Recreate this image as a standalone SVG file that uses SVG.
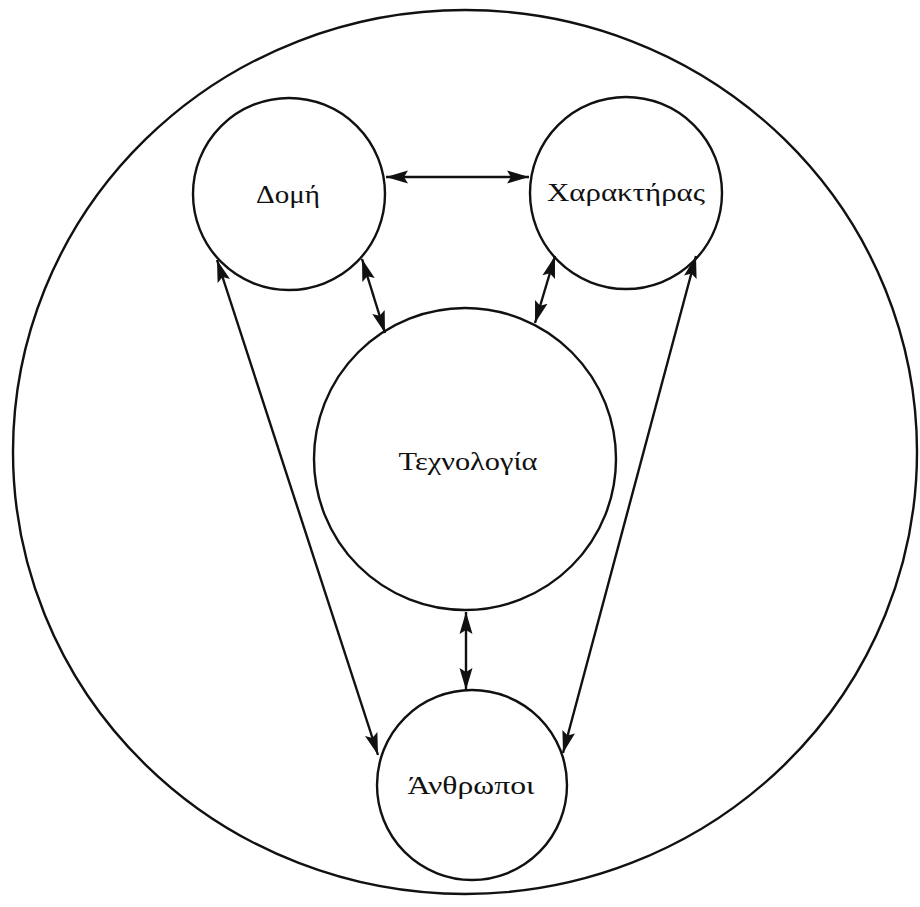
<svg xmlns="http://www.w3.org/2000/svg" width="920" height="907" viewBox="0 0 920 907">
  <defs>
    <marker id="ah" markerUnits="userSpaceOnUse" markerWidth="24" markerHeight="16" viewBox="0 0 24 16" refX="22" refY="8" orient="auto-start-reverse">
      <path d="M0,1.5 L22,8 L0,14.5 L4,8 z" fill="#111"/>
    </marker>
  </defs>
  <style>
    .node { fill: none; stroke: #111; stroke-width: 2.4; }
    .lbl { font-family: "Liberation Serif", "DejaVu Serif", serif; font-size: 25px; fill: #111; text-anchor: middle; }
    .conn line { stroke: #111; stroke-width: 2.4; marker-start: url(#ah); marker-end: url(#ah); }
  </style>
  <rect width="920" height="907" fill="#ffffff"/>
  <g id="outer">
    <ellipse class="node" cx="465" cy="452" rx="452" ry="442"/>
  </g>
  <g id="domi">
    <circle class="node" cx="289" cy="194" r="96"/>
    <text class="lbl" x="288" y="203" textLength="64" lengthAdjust="spacingAndGlyphs">Δομή</text>
  </g>
  <g id="charaktiras">
    <circle class="node" cx="626" cy="193" r="96"/>
    <text class="lbl" x="626" y="201" textLength="158" lengthAdjust="spacingAndGlyphs">Χαρακτήρας</text>
  </g>
  <g id="technologia">
    <circle class="node" cx="465" cy="459" r="151"/>
    <text class="lbl" x="468" y="470" textLength="139" lengthAdjust="spacingAndGlyphs">Τεχνολογία</text>
  </g>
  <g id="anthropoi">
    <circle class="node" cx="472" cy="785" r="95"/>
    <text class="lbl" x="471" y="794" textLength="127" lengthAdjust="spacingAndGlyphs">Άνθρωποι</text>
  </g>
  <g id="connectors" class="conn">
    <line x1="386" y1="177" x2="529" y2="177"/>
    <line x1="362" y1="259" x2="385" y2="333"/>
    <line x1="555" y1="256" x2="535" y2="323"/>
    <line x1="217" y1="260" x2="378" y2="755"/>
    <line x1="696" y1="256" x2="563" y2="753"/>
    <line x1="466" y1="612" x2="466" y2="690"/>
  </g>
</svg>
